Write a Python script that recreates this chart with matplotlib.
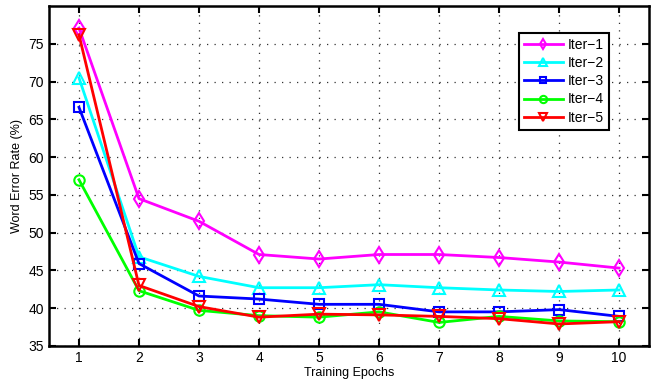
import matplotlib
matplotlib.use("Agg")
import matplotlib.pyplot as plt

plt.rcParams['font.family'] = ['Liberation Sans', 'DejaVu Sans']

epochs = [1, 2, 3, 4, 5, 6, 7, 8, 9, 10]
iter1 = [77.1, 54.5, 51.5, 47.1, 46.5, 47.1, 47.1, 46.7, 46.1, 45.3]
iter2 = [70.5, 46.8, 44.2, 42.7, 42.7, 43.1, 42.7, 42.4, 42.2, 42.4]
iter3 = [66.6, 45.9, 41.6, 41.2, 40.5, 40.5, 39.5, 39.5, 39.8, 38.9]
iter4 = [57.0, 42.3, 39.7, 39.0, 38.8, 39.5, 38.1, 38.9, 38.3, 38.2]
iter5 = [76.2, 43.0, 40.2, 38.8, 39.2, 39.1, 38.9, 38.6, 37.9, 38.2]
labels = ['Iter\u22121', 'Iter\u22122', 'Iter\u22123', 'Iter\u22124', 'Iter\u22125']
yticks = [35, 40, 45, 50, 55, 60, 65, 70, 75]

fig = plt.figure(figsize=(6.53, 3.83), dpi=100)
ax = fig.add_axes([0.075, 0.097, 0.919, 0.887])

styles = [
    ('#ff00ff', 'd', 8),
    ('#00ffff', '^', 8.5),
    ('#0000ff', 's', 6.5),
    ('#00ff00', 'o', 7.5),
    ('#ff0000', 'v', 8.5),
]
for data, lab, (c, m, ms) in zip([iter1, iter2, iter3, iter4, iter5], labels, styles):
    ax.plot(epochs, data, color=c, marker=m, markersize=ms, markerfacecolor='none',
            markeredgecolor=c, markeredgewidth=1.5, linewidth=2, label=lab)

ax.set_xlim(0.5, 10.5)
ax.set_ylim(35, 80)
ax.set_xticks(epochs)
ax.set_yticks(yticks)
ax.grid(True, linestyle=(0, (1, 5)), color='#333333', linewidth=0.9)
ax.tick_params(direction='in', top=True, right=True, length=5, width=1.5, labelsize=10)
for s in ax.spines.values():
    s.set_linewidth(1.8)
ax.set_xlabel('Training Epochs', fontsize=9, labelpad=2)
ax.set_ylabel('Word Error Rate (%)', fontsize=9, labelpad=4)

leg = ax.legend(loc='upper right', bbox_to_anchor=(0.944, 0.941), fontsize=10,
                fancybox=False, edgecolor='black', framealpha=1, handlelength=2.8,
                borderpad=0.35, labelspacing=0.3, handletextpad=0.35, markerscale=0.7)
leg.get_frame().set_linewidth(1.5)

fig.savefig('out.png', dpi=100)
